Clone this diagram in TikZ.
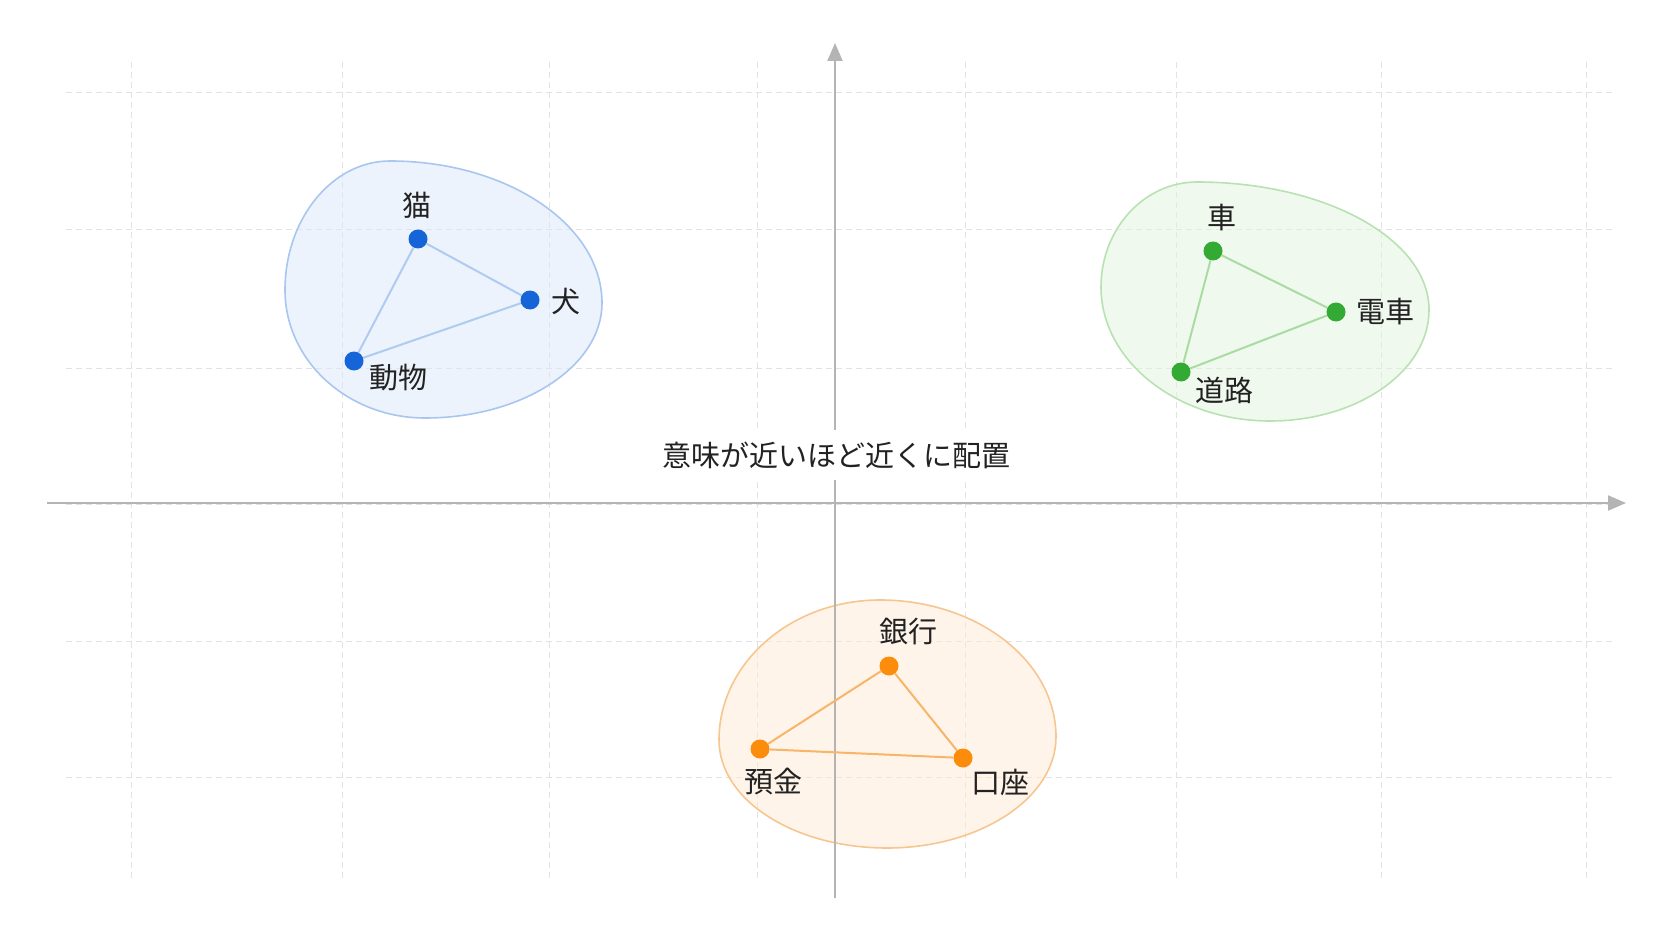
\documentclass[tikz,border=0pt]{standalone}
\usepackage{fontspec}
\newfontfamily\jp{Noto Sans CJK JP}
\usetikzlibrary{arrows.meta}
\definecolor{gridc}{HTML}{E2E2E2}
\definecolor{axisc}{HTML}{B4B4B4}
\definecolor{txt}{HTML}{222222}
\definecolor{bdot}{HTML}{1565D8}
\definecolor{bline}{HTML}{A8C6F0}
\definecolor{bfill}{HTML}{DCE9FB}
\definecolor{bedge}{HTML}{AECBF2}
\definecolor{gdot}{HTML}{33AA33}
\definecolor{gline}{HTML}{B8E2B2}
\definecolor{gfill}{HTML}{E2F5DF}
\definecolor{gedge}{HTML}{A8DCA2}
\definecolor{odot}{HTML}{FB8C0C}
\definecolor{oline}{HTML}{F7C690}
\definecolor{ofill}{HTML}{FFEAD4}
\definecolor{oedge}{HTML}{F8B56A}
\tikzset{
  gridline/.style={draw=gridc, line width=1pt, dash pattern=on 6pt off 4pt},
  axisline/.style={draw=axisc, line width=2pt, -{Triangle[length=18pt,width=15pt]}},
  blob/.style={line width=1.6pt, fill opacity=0.5},
  dot/.style={circle, inner sep=0pt, minimum size=19pt},
  edge/.style={line width=2pt},
  lbl/.style={font=\jp\fontsize{29}{34}\selectfont, text=txt, inner sep=0pt},
}
\begin{document}
\begin{tikzpicture}[x=1pt,y=-1pt]
\useasboundingbox (0,0) rectangle (1672,941);
\fill[white] (0,0) rectangle (1672,941);
% grid
\foreach \x in {131,342,549,757,965,1176,1381,1586}
  \draw[gridline] (\x,62) -- (\x,880);
\foreach \y in {93,230,368,504,641,777}
  \draw[gridline] (66,\y) -- (1615,\y);
% blobs
\draw[blob, draw=bline, fill=bfill] (390,161)
  .. controls (507,161) and (602,225) .. (602,303)
  .. controls (602,366) and (523,418) .. (425,418)
  .. controls (348,418) and (285,361) .. (285,290)
  .. controls (285,219) and (332,161) .. cycle;
\draw[blob, draw=gline, fill=gfill] (1197,182)
  .. controls (1325,182) and (1429,239) .. (1429,310)
  .. controls (1429,371) and (1358,421) .. (1270,421)
  .. controls (1177,421) and (1101,361) .. (1101,287)
  .. controls (1101,229) and (1144,182) .. cycle;
\draw[blob, draw=oline, fill=ofill] (880,600)
  .. controls (977,600) and (1056,661) .. (1056,737)
  .. controls (1056,798) and (980,848) .. (887,848)
  .. controls (794,848) and (719,800) .. (719,740)
  .. controls (719,663) and (791,600) .. cycle;
% axes
\coordinate (xs) at (47,503);
\coordinate (xe) at (1626,503);
\coordinate (ys) at (835,898);
\coordinate (ye) at (835,43);
\draw[axisline] (xs) -- (xe);
\draw[axisline] (ys) -- (ye);
\node[lbl, fill=white, inner xsep=10pt, inner ysep=12pt] (title) at (836,455) {意味が近いほど近くに配置};
% blue cluster
\node[dot, fill=bdot] (neko) at (418,239) {};
\node[dot, fill=bdot] (inu) at (530,300) {};
\node[dot, fill=bdot] (dobutsu) at (354,361) {};
\draw[edge, draw=bedge] (neko) -- (inu) -- (dobutsu) -- (neko);
\node[lbl] (lneko) at (417,205) {猫};
\node[lbl] (linu) at (566,301) {犬};
\node[lbl] (ldobutsu) at (398,378) {動物};
% green cluster
\node[dot, fill=gdot] (kuruma) at (1213,251) {};
\node[dot, fill=gdot] (densha) at (1336,312) {};
\node[dot, fill=gdot] (doro) at (1181,372) {};
\draw[edge, draw=gedge] (kuruma) -- (densha) -- (doro) -- (kuruma);
\node[lbl] (lkuruma) at (1222,218) {車};
\node[lbl] (ldensha) at (1385,312) {電車};
\node[lbl] (ldoro) at (1224,390) {道路};
% orange cluster
\node[dot, fill=odot] (ginko) at (889,666) {};
\node[dot, fill=odot] (yokin) at (760,749) {};
\node[dot, fill=odot] (koza) at (963,758) {};
\draw[edge, draw=oedge] (ginko) -- (koza) -- (yokin) -- (ginko);
\node[lbl] (lginko) at (908,632) {銀行};
\node[lbl] (lyokin) at (773,782) {預金};
\node[lbl] (lkoza) at (1000,782) {口座};
\end{tikzpicture}
\end{document}
